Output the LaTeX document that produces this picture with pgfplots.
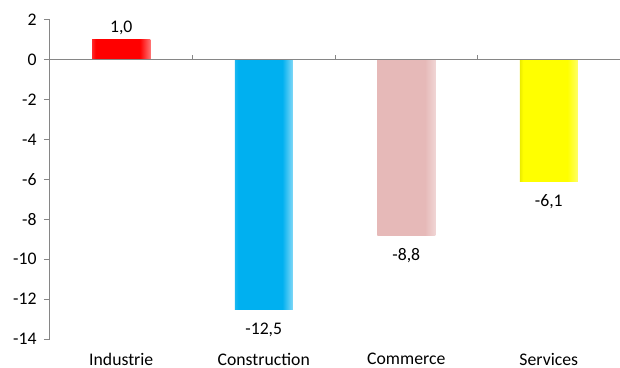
\documentclass[border=0pt]{standalone}
\usepackage{fontspec}
\setmainfont{Carlito}
\usepackage{pgfplots}
\pgfplotsset{compat=1.18}
\definecolor{cRed}{RGB}{255,0,0}
\definecolor{cBlue}{RGB}{0,176,240}
\definecolor{cPink}{RGB}{230,185,184}
\definecolor{cYel}{RGB}{255,255,0}
\definecolor{axgray}{RGB}{134,134,134}
\pgfdeclarehorizontalshading{shRed}{100bp}{color(0bp)=(cRed); color(25bp)=(cRed!85!white); color(28bp)=(cRed); color(66bp)=(cRed); color(75bp)=(cRed!55!white); color(100bp)=(cRed!55!white)}
\pgfdeclarehorizontalshading{shBlue}{100bp}{color(0bp)=(cBlue); color(25bp)=(cBlue!90!white); color(28bp)=(cBlue); color(66bp)=(cBlue); color(75bp)=(cBlue!50!white); color(100bp)=(cBlue!50!white)}
\pgfdeclarehorizontalshading{shPink}{100bp}{color(0bp)=(cPink); color(25bp)=(cPink); color(66bp)=(cPink); color(75bp)=(cPink!60!white); color(100bp)=(cPink!60!white)}
\pgfdeclarehorizontalshading{shYel}{100bp}{color(0bp)=(cYel); color(25bp)=(cYel!92!black); color(28bp)=(cYel); color(66bp)=(cYel); color(75bp)=(cYel!60!white); color(100bp)=(cYel!60!white)}
\begin{document}
\begin{tikzpicture}[font=\fontsize{17.7bp}{21bp}\selectfont]
\begin{axis}[
  scale only axis, width=570bp, height=319bp,
  xmin=-0.5, xmax=3.5, ymin=-14, ymax=2,
  axis y line=left, axis x line=bottom,
  axis line style={-},
  x axis line style={draw=none},
  y axis line style={draw=axgray, line width=1bp},
  xtick={0,1,2,3},
  xticklabels={Industrie,Construction,Commerce,Services},
  xtick style={draw=none},
  ytick={-14,-12,-10,-8,-6,-4,-2,0,2},
  ytick style={draw=axgray, line width=1bp},
  tick align=outside,
  major tick length=6bp,
  /pgf/number format/assume math mode=true,
  yticklabel style={xshift=-4bp},
  xticklabel style={yshift=-6bp, inner sep=2bp},
  ybar, bar width=58bp, bar shift=0pt,
  clip=false,
]
\coordinate (sw) at (rel axis cs:0,0);
\addplot[draw=none, shading=shRed, shade, nodes near coords,
  every node near coord/.append style={text=black, anchor=south, yshift=2bp,
    /pgf/number format/.cd, fixed, fixed zerofill, precision=1, use comma, assume math mode=true}]
  coordinates {(0,1.0)};
\addplot[draw=none, shading=shBlue, shade, nodes near coords,
  every node near coord/.append style={text=black, anchor=north, yshift=-10bp,
    /pgf/number format/.cd, fixed, fixed zerofill, precision=1, use comma, assume math mode=true}]
  coordinates {(1,-12.5)};
\addplot[draw=none, shading=shPink, shade, nodes near coords,
  every node near coord/.append style={text=black, anchor=north, yshift=-10bp,
    /pgf/number format/.cd, fixed, fixed zerofill, precision=1, use comma, assume math mode=true}]
  coordinates {(2,-8.8)};
\addplot[draw=none, shading=shYel, shade, nodes near coords,
  every node near coord/.append style={text=black, anchor=north, yshift=-10bp,
    /pgf/number format/.cd, fixed, fixed zerofill, precision=1, use comma, assume math mode=true}]
  coordinates {(3,-6.1)};
\draw[axgray, line width=1bp] (axis cs:-0.5,0) -- (axis cs:3.5,0);
\pgfplotsinvokeforeach{0.5,1.5,2.5}{\draw[axgray, line width=1bp] (axis cs:#1,0) -- ([yshift=5bp]axis cs:#1,0);}
\end{axis}
\pgfresetboundingbox
\path[use as bounding box] ([xshift=-50bp,yshift=-29bp]sw) rectangle ++(620bp,368bp);
\end{tikzpicture}
\end{document}
